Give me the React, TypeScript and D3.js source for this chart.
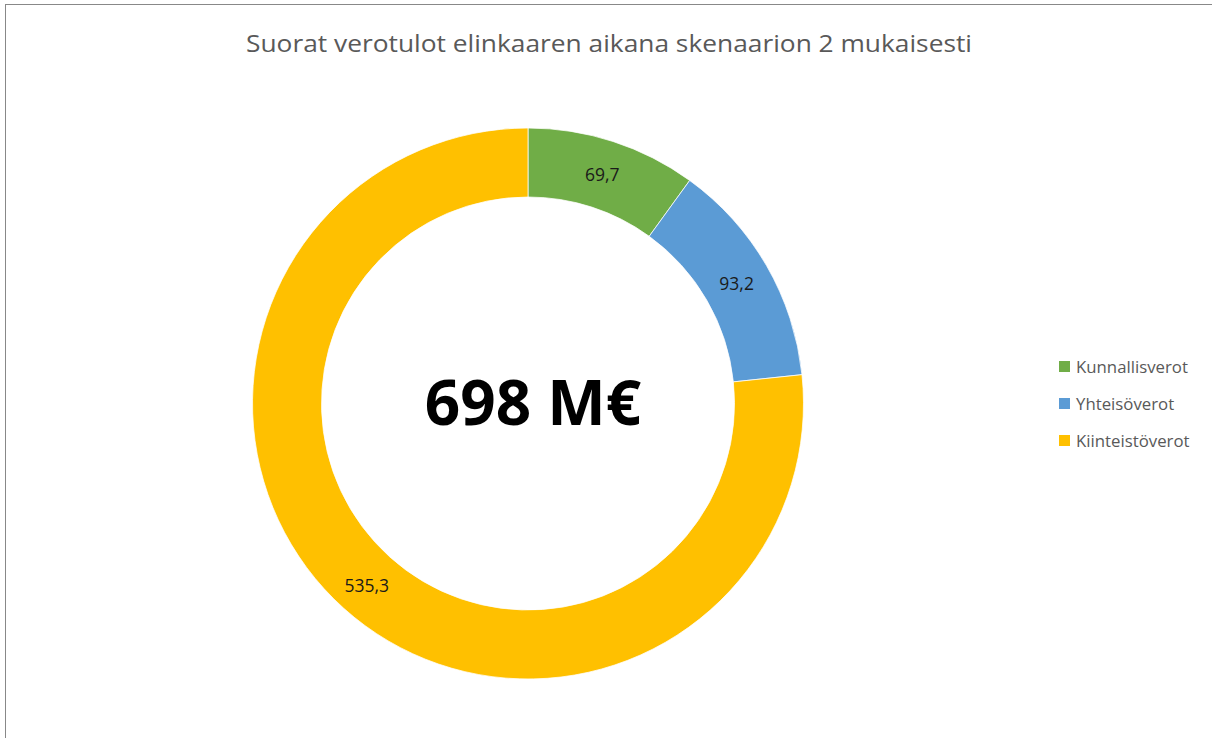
import React from "react";
import * as d3 from "d3";

const categories = ["Kunnallisverot", "Yhteisöverot", "Kiinteistöverot"];
const values = [69.7, 93.2, 535.3];
const labels = ["69,7", "93,2", "535,3"];
const colors = ["#70AD47", "#5B9BD5", "#FFC000"];
const title = "Suorat verotulot elinkaaren aikana skenaarion 2 mukaisesti";
const centerText = "698 M€";

export default function App() {
  const W = 1212, H = 738;
  const cx = 528, cy = 403.5, R = 275.5, r = 206.5;
  const pie = d3.pie<number>().sort(null).value((d) => d)(values);
  const arc = d3.arc<d3.PieArcDatum<number>>().innerRadius(r).outerRadius(R);
  const font = "'Open Sans', 'Noto Sans', sans-serif";
  return (
    <svg width={W} height={H} style={{ position: "absolute", left: 0, top: 0 }}>
      <rect x={0} y={0} width={W} height={H} fill="#fff" />
      <rect x={5.5} y={4.5} width={W + 20} height={H + 20} fill="none" stroke="#888" strokeWidth={1} />
      <text x={246} y={52} textLength={726} lengthAdjust="spacingAndGlyphs" fontFamily={font} fontSize={24} fill="#595959">{title}</text>
      <g transform={`translate(${cx},${cy})`}>
        {pie.map((p, i) => (
          <path key={i} d={arc(p) || ""} fill={colors[i]} stroke="#fff" strokeWidth={0.75} />
        ))}
        {pie.map((p, i) => {
          const [x, y] = arc.centroid(p);
          return (
            <text key={"l" + i} x={x} y={y + (i === 2 ? 3 : 1)} dy="0.35em" textAnchor="middle" fontFamily={font} fontSize={17.5} fill="#1a1a1a">{labels[i]}</text>
          );
        })}
        <text x={5} y={21} textAnchor="middle" fontFamily={font} fontSize={62} fontWeight="bold" fill="#000">{centerText}</text>
      </g>
      {categories.map((c, i) => (
        <g key={c} transform={`translate(1059,${361 + i * 37})`}>
          <rect x={0} y={0} width={11} height={11} fill={colors[i]} />
          <text x={17} y={11.5} fontFamily={font} fontSize={16.8} fill="#595959">{c}</text>
        </g>
      ))}
    </svg>
  );
}
